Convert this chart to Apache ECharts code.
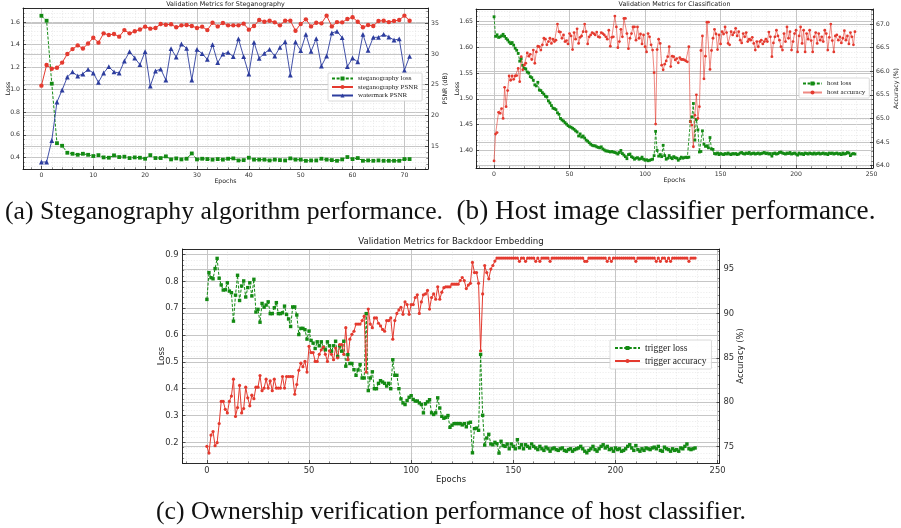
<!DOCTYPE html>
<html><head><meta charset="utf-8">
<script src="https://cdn.jsdelivr.net/npm/echarts@6/dist/echarts.min.js"></script>
<style>html,body{margin:0;padding:0;background:#fff}#c{width:901px;height:528px}</style>
</head><body><div id="c"></div>
<script>
// ---------- (a) Steganography ----------
const stegLoss = [
1.656,1.612,1.054,0.526,0.503,0.441,0.432,0.423,0.432,0.423,
0.412,0.420,0.400,0.397,0.418,0.403,0.406,0.394,0.400,0.397,
0.388,0.420,0.394,0.394,0.409,0.382,0.391,0.382,0.388,0.435,
0.382,0.388,0.385,0.380,0.385,0.380,0.388,0.391,0.373,0.376,
0.397,0.380,0.380,0.380,0.373,0.380,0.376,0.373,0.391,0.380,
0.380,0.370,0.373,0.373,0.388,0.380,0.376,0.370,0.382,0.403,
0.385,0.394,0.370,0.373,0.370,0.373,0.370,0.370,0.370,0.370,
0.385,0.385];
const stegPSNR = [
24.84,28.20,27.60,27.77,28.60,30.00,30.80,31.40,30.90,31.70,
32.66,31.85,33.37,33.10,33.26,32.83,33.90,33.37,33.70,34.00,
34.46,34.13,34.24,34.90,34.78,34.84,34.35,34.67,34.73,34.57,
34.24,34.46,33.90,35.10,34.50,35.05,34.67,34.67,34.67,34.95,
33.97,34.57,35.54,35.27,35.43,35.16,34.67,35.43,35.43,33.80,
34.90,35.65,34.50,35.10,35.00,36.25,34.50,35.20,35.16,35.70,
35.98,35.27,34.35,34.73,34.57,35.38,35.43,35.20,35.38,35.54,
36.25,35.43];
const wmPSNR = [
12.39,12.39,15.90,22.17,24.13,26.25,27.07,26.41,26.74,27.50,
26.90,25.38,26.90,27.93,27.07,26.90,28.86,30.38,29.35,28.26,
30.38,24.78,27.23,27.55,25.76,30.87,29.50,31.63,30.92,25.76,
30.76,30.05,29.13,31.52,28.59,30.00,30.27,29.57,32.45,29.57,
26.74,31.90,29.30,30.10,30.76,29.67,31.08,32.00,26.58,31.96,
30.54,33.20,30.43,32.50,28.04,29.67,33.42,33.70,32.66,27.93,
29.35,28.70,33.20,30.60,32.72,32.72,33.20,32.77,32.28,32.45,
27.34,29.62];

// ---------- (b) Classification ----------
const hostLoss = [
1.659,1.621,1.624,1.619,1.620,1.622,1.625,1.621,1.617,1.614,
1.610,1.607,1.609,1.604,1.598,1.594,1.588,1.573,1.578,1.565,
1.559,1.558,1.552,1.550,1.543,1.541,1.536,1.527,1.525,1.532,
1.517,1.516,1.512,1.509,1.505,1.504,1.496,1.492,1.487,1.482,
1.481,1.479,1.473,1.470,1.462,1.459,1.457,1.454,1.451,1.448,
1.446,1.445,1.443,1.441,1.438,1.436,1.428,1.432,1.426,1.428,
1.424,1.420,1.418,1.415,1.412,1.410,1.409,1.409,1.407,1.406,
1.405,1.407,1.403,1.401,1.399,1.399,1.398,1.397,1.398,1.397,
1.396,1.395,1.393,1.396,1.400,1.394,1.391,1.388,1.384,1.392,
1.393,1.388,1.386,1.383,1.385,1.386,1.383,1.384,1.387,1.383,
1.381,1.382,1.380,1.381,1.382,1.383,1.390,1.437,1.400,1.389,
1.392,1.388,1.410,1.390,1.383,1.385,1.390,1.386,1.384,1.388,
1.386,1.385,1.381,1.384,1.387,1.385,1.386,1.387,1.386,1.387,
1.456,1.465,1.491,1.420,1.460,1.440,1.397,1.398,1.438,1.412,
1.408,1.409,1.405,1.425,1.403,1.402,1.394,1.393,1.395,1.392,
1.394,1.393,1.392,1.394,1.393,1.395,1.393,1.392,1.394,1.393,
1.394,1.392,1.393,1.395,1.396,1.394,1.393,1.395,1.394,1.396,
1.393,1.394,1.395,1.393,1.394,1.395,1.393,1.394,1.395,1.396,
1.394,1.395,1.393,1.394,1.389,1.394,1.395,1.393,1.394,1.396,
1.397,1.395,1.394,1.393,1.395,1.394,1.396,1.393,1.394,1.395,
1.393,1.391,1.395,1.393,1.394,1.392,1.395,1.394,1.393,1.395,
1.394,1.393,1.395,1.393,1.394,1.395,1.393,1.394,1.395,1.393,
1.394,1.392,1.395,1.394,1.395,1.393,1.394,1.395,1.393,1.394,
1.392,1.395,1.393,1.394,1.396,1.395,1.390,1.393,1.394,1.393];
const hostAcc = [
64.10,64.67,64.70,65.13,65.11,65.21,65.00,65.66,65.25,65.59,
65.90,65.81,65.90,65.83,65.90,65.91,66.06,65.78,66.31,66.03,
66.13,66.17,66.39,66.32,66.36,66.25,66.45,66.17,66.41,66.53,
66.52,66.45,66.56,66.70,66.68,66.56,66.63,66.70,66.59,66.68,
66.63,66.66,67.00,66.84,66.83,66.70,66.77,66.63,66.65,66.58,
66.80,66.75,66.46,66.82,66.68,66.90,66.59,66.72,66.75,66.84,
67.00,66.84,66.58,66.73,66.77,66.82,66.80,66.77,66.83,66.73,
66.72,66.82,66.80,66.77,66.73,66.68,66.87,66.53,66.72,66.73,
67.17,66.94,66.50,66.63,66.89,66.73,67.12,67.12,66.80,66.48,
66.70,66.80,66.94,66.94,66.66,66.94,66.70,66.79,66.58,66.77,
66.52,66.41,66.80,66.73,66.56,66.45,65.97,64.88,66.46,66.68,
66.59,66.13,66.03,66.15,66.22,66.31,66.52,66.10,66.32,66.31,
66.24,66.27,66.18,66.29,66.25,66.25,66.24,66.22,66.20,66.52,
64.93,64.86,64.40,65.07,65.50,65.00,65.25,66.44,66.75,65.84,
66.32,67.04,67.04,66.04,66.44,66.70,66.89,66.79,66.46,66.77,
66.58,66.84,66.79,66.94,66.82,66.59,66.56,66.84,66.77,66.82,
66.91,66.75,66.84,66.66,66.60,66.80,66.73,66.82,66.63,66.68,
66.66,66.72,66.59,66.45,66.63,66.52,66.63,66.66,66.58,66.63,
66.68,66.63,66.83,66.73,66.31,66.60,66.73,66.87,66.75,66.66,
66.52,66.45,66.80,66.63,66.94,66.70,66.84,66.45,66.63,66.80,
66.87,66.41,66.75,66.94,66.59,66.87,66.41,66.80,66.68,66.87,
66.65,66.41,66.73,66.82,66.59,66.80,66.66,66.73,66.63,66.87,
66.80,66.45,66.72,67.00,66.65,66.41,66.75,66.77,66.66,66.73,
66.60,66.70,66.86,66.66,66.75,66.58,66.82,66.73,66.56,66.84];

// ---------- (c) Backdoor ----------
const trigLoss = [
0.733,0.833,0.814,0.810,0.848,0.886,0.812,0.787,0.768,0.769,
0.795,0.764,0.758,0.652,0.749,0.823,0.729,0.783,0.802,0.742,
0.777,0.795,0.746,0.808,0.686,0.696,0.648,0.718,0.704,0.712,
0.724,0.680,0.680,0.702,0.721,0.680,0.680,0.683,0.708,0.677,
0.660,0.632,0.705,0.705,0.675,0.602,0.625,0.625,0.620,0.585,
0.615,0.580,0.570,0.550,0.575,0.560,0.575,0.555,0.545,0.575,
0.560,0.540,0.560,0.577,0.520,0.560,0.540,0.577,0.484,0.527,
0.494,0.494,0.471,0.450,0.470,0.490,0.440,0.440,0.680,0.393,
0.440,0.463,0.400,0.400,0.420,0.430,0.425,0.420,0.410,0.420,
0.400,0.508,0.450,0.450,0.400,0.362,0.347,0.341,0.356,0.368,
0.374,0.360,0.354,0.354,0.347,0.341,0.310,0.344,0.351,0.359,
0.310,0.304,0.310,0.366,0.328,0.297,0.290,0.293,0.300,0.256,
0.264,0.270,0.270,0.270,0.270,0.265,0.270,0.258,0.272,0.275,
0.161,0.251,0.253,0.245,0.528,0.301,0.190,0.216,0.230,0.194,
0.191,0.200,0.195,0.160,0.204,0.188,0.185,0.194,0.176,0.194,
0.185,0.176,0.210,0.180,0.191,0.176,0.191,0.185,0.179,0.194,
0.185,0.179,0.173,0.185,0.176,0.170,0.182,0.176,0.167,0.176,
0.179,0.173,0.170,0.176,0.179,0.170,0.167,0.173,0.176,0.167,
0.173,0.176,0.179,0.185,0.176,0.167,0.161,0.170,0.176,0.185,
0.173,0.167,0.176,0.185,0.191,0.179,0.185,0.173,0.176,0.167,
0.179,0.173,0.176,0.167,0.170,0.176,0.185,0.191,0.179,0.170,
0.188,0.173,0.167,0.176,0.170,0.179,0.176,0.173,0.179,0.182,
0.176,0.185,0.170,0.167,0.182,0.176,0.173,0.167,0.176,0.170,
0.173,0.167,0.179,0.176,0.185,0.194,0.176,0.173,0.176,0.179];
const trigAcc = [
75.04,74.28,76.30,76.70,75.10,75.45,77.60,80.10,80.10,79.20,
78.80,80.10,80.70,82.60,78.40,79.40,81.90,78.80,79.30,81.70,
80.50,79.60,80.80,80.40,81.70,81.70,83.00,81.30,81.60,82.60,
81.60,82.40,81.30,82.60,81.60,81.60,81.60,82.90,81.60,82.90,
82.90,82.90,82.90,80.90,82.00,83.60,84.40,84.00,84.60,83.40,
86.30,85.60,85.60,84.60,84.60,85.40,85.90,86.20,85.40,84.60,
85.80,85.40,84.80,86.10,85.00,86.50,86.50,85.40,88.40,84.80,
87.10,87.65,88.00,88.80,88.80,88.80,89.20,89.70,83.40,90.50,
88.80,88.40,89.50,89.50,88.90,88.60,88.20,88.00,89.20,89.20,
89.50,87.10,89.20,90.00,90.40,90.70,89.90,91.30,91.00,89.90,
91.00,91.00,91.80,92.10,90.00,91.30,92.10,92.20,92.60,90.50,
91.80,92.20,91.60,93.00,91.60,92.40,92.90,93.00,93.00,93.00,
93.30,93.30,93.30,93.30,93.70,94.05,93.70,92.80,93.20,93.40,
95.75,94.60,94.60,93.40,85.80,92.20,95.40,94.60,93.90,95.00,
95.40,95.90,96.24,96.24,96.24,96.24,96.24,96.24,96.24,96.24,
96.24,96.24,96.24,95.87,96.24,96.24,95.87,96.24,96.24,96.24,
96.24,95.87,96.24,95.87,96.24,96.24,96.24,96.24,95.87,96.24,
96.24,96.24,96.24,96.24,96.24,96.24,96.24,96.24,96.24,96.24,
96.24,96.24,96.24,96.24,96.24,95.87,95.87,96.24,96.24,96.24,
96.24,96.24,96.24,96.24,96.24,96.24,95.87,96.24,95.87,96.24,
96.24,96.24,96.24,96.24,96.24,96.24,96.24,96.24,96.24,96.24,
95.87,96.24,96.24,96.24,96.24,96.24,96.24,96.24,96.24,96.24,
95.87,96.24,95.87,96.24,96.24,95.87,96.24,95.87,96.24,96.24,
96.24,96.24,96.24,96.24,96.24,96.24,95.87,96.24,96.24,96.24];

const titles = ['Validation Metrics for Steganography','Validation Metrics for Classification','Validation Metrics for Backdoor Embedding'];
const captions = ['(a) Steganography algorithm performance.','(b) Host image classifier performance.','(c) Ownership verification performance of host classifier.'];

const GREEN = '#138a13', RED = '#e43a2f', BLUE = '#2d3d9e';
const SANS = 'DejaVu Sans', SERIF = 'Liberation Serif';

function pairs(arr){ return arr.map((v,i)=>[i,v]); }
function fmt(step, dec){ return function(v){ const k=v/step; return Math.abs(k-Math.round(k))<1e-6 ? v.toFixed(dec) : ''; }; }

function axis(o){
  const fs = o.fs;
  return {
    type:'value', gridIndex:o.grid, min:o.min, max:o.max, splitNumber:o.split,
    position:o.position, name:o.name, nameLocation:'middle', nameGap:o.nameGap, nameMoveOverlap:false,
    nameTextStyle:{fontFamily:SANS, fontSize:o.nfs||fs, color:'#222'},
    axisLine:{show:true, onZero:false, lineStyle:{color:'#1a1a1a', width:0.9}},
    axisTick:{show:true, inside:true, length:3, lineStyle:{color:'#1a1a1a', width:0.7}},
    minorTick:{show:true, splitNumber:5, length:1.7, lineStyle:{color:'#1a1a1a', width:0.5}},
    axisLabel:{show:true, fontFamily:SANS, fontSize:fs, color:'#333', margin:o.margin||3, formatter:fmt(o.step,o.dec)},
    splitLine:{show:true, lineStyle:{color:'#c6c6c6', width:1}},
    minorSplitLine:{show:o.minor!==false, lineStyle:{color:'#e0e0e0', width:0.6, type:[1.2,1.6]}}
  };
}
function frameTop(grid,min,max){
  return {type:'value', gridIndex:grid, position:'top', min:min, max:max,
    axisLine:{show:true,onZero:false,lineStyle:{color:'#1a1a1a',width:0.9}},
    axisTick:{show:false}, axisLabel:{show:false}, splitLine:{show:false}};
}

const xAxis = [
  axis({grid:0,min:-3.55,max:74.55,split:8,step:10,dec:0,fs:6.2,name:'Epochs',nameGap:9,position:'bottom'}),
  frameTop(0,-3.55,74.55),
  axis({grid:1,min:-11.95,max:250.95,split:5,step:50,dec:0,fs:6.2,name:'Epochs',nameGap:9,position:'bottom'}),
  frameTop(1,-11.95,250.95),
  axis({grid:2,min:-11.95,max:250.95,split:5,step:50,dec:0,fs:8.4,name:'Epochs',nameGap:13,position:'bottom',margin:4}),
  frameTop(2,-11.95,250.95)
];
const yAxis = [
  axis({grid:0,min:0.297,max:1.725,split:7,step:0.2,dec:1,fs:6.2,name:'Loss',nameGap:12,position:'left'}),
  axis({grid:0,min:11.25,max:37.5,split:5,step:5,dec:0,fs:6.2,name:'PSNR (dB)',nameGap:14.5,position:'right',minor:false}),
  axis({grid:1,min:1.366,max:1.674,split:6,step:0.05,dec:2,fs:6.2,name:'Loss',nameGap:16,position:'left'}),
  axis({grid:1,min:63.95,max:67.32,split:6,step:0.5,dec:1,fs:6.2,name:'Accuracy (%)',nameGap:20.5,position:'right',minor:false}),
  axis({grid:2,min:0.123,max:0.921,split:8,step:0.1,dec:1,fs:8.4,name:'Loss',nameGap:16.5,position:'left',margin:4}),
  axis({grid:2,min:73.16,max:97.26,split:5,step:5,dec:0,fs:8.4,name:'Accuracy (%)',nameGap:17.5,position:'right',minor:false,margin:4})
];

function line(name,data,xi,yi,color,symbol,size,dashed,width,lineOpacity){
  return {type:'line', name:name, data:pairs(data), xAxisIndex:xi, yAxisIndex:yi,
    symbol:symbol, symbolSize:size, showSymbol:true, showAllSymbol:true,
    lineStyle:{color:color, width:width, type: dashed ? [3,1.6] : 'solid', opacity: lineOpacity==null?1:lineOpacity},
    itemStyle:{color:color, borderWidth:0},
    emphasis:{disabled:true}, animation:false, clip:true};
}

const series = [
  line('steganography loss',stegLoss,0,0,GREEN,'rect',3.8,true,1),
  line('steganography PSNR',stegPSNR,0,1,RED,'circle',4.4,false,1),
  line('watermark PSNR',wmPSNR,0,1,BLUE,'triangle',4.8,false,0.9),
  line('host loss',hostLoss,2,2,GREEN,'rect',2.8,true,0.9),
  line('host accuracy',hostAcc,2,3,RED,'circle',2.8,false,1,0.6),
  line('trigger loss',trigLoss,4,4,GREEN,'rect',3.4,true,1),
  line('trigger accuracy',trigAcc,4,5,RED,'circle',3.2,false,1)
];

function legend(names,left,top,fs,iw,gap,pad){
  return {data:names, left:left, top:top, orient:'vertical', itemWidth:iw, itemHeight:5, itemGap:gap,
    padding:pad, backgroundColor:'rgba(255,255,255,0.85)', borderColor:'#d0d0d0', borderWidth:0.8, borderRadius:1,
    textStyle:{fontFamily:SERIF, fontSize:fs, color:'#222'}, selectedMode:false};
}

function txt(x,y,text,font,fill){
  return {type:'text', x:x, y:y, style:{text:text, font:font, fill:fill, align:'center', verticalAlign:'middle', textAlign:'center', textVerticalAlign:'middle'}};
}
const graphic = [
  txt(225.5,4,titles[0],'6.4px "DejaVu Sans"','#222'),
  txt(674.5,4.5,titles[1],'6.4px "DejaVu Sans"','#222'),
  txt(451,241.5,titles[2],'8.6px "DejaVu Sans"','#222'),
  txt(224,212,captions[0],'25.7px "Liberation Serif"','#111'),
  txt(666,212,captions[1],'27.2px "Liberation Serif"','#111'),
  txt(451,512,captions[2],'25.7px "Liberation Serif"','#111')
];

const option = {
  animation:false,
  backgroundColor:'#ffffff',
  textStyle:{fontFamily:SANS},
  grid:[
    {left:23, top:8, width:405, height:161},
    {left:476, top:9, width:397, height:159},
    {left:182.5, top:249, width:537, height:214}
  ],
  xAxis:xAxis, yAxis:yAxis, series:series,
  legend:[
    legend(['steganography loss','steganography PSNR','watermark PSNR'],328,73,7,21,1.5,[2,4,2,3]),
    legend(['host loss','host accuracy'],799,78,7,19,2,[2,4,2,3]),
    legend(['trigger loss','trigger accuracy'],610,340,9.5,25,3,[3,5,3,4])
  ],
  graphic:graphic
};
const chart = echarts.init(document.getElementById('c'), null, {renderer:'canvas', width:901, height:528});
chart.setOption(option);
</script></body></html>
